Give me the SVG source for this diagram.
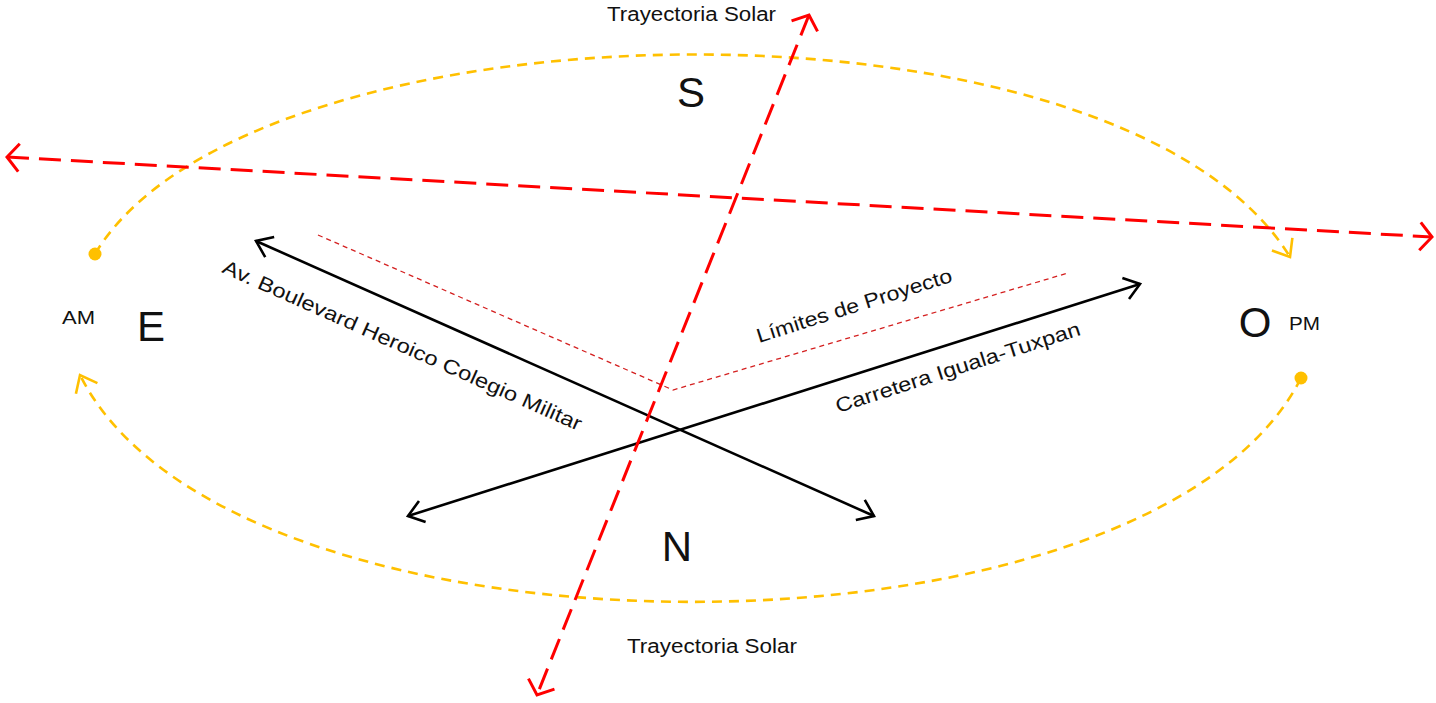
<svg xmlns="http://www.w3.org/2000/svg" width="1436" height="703" viewBox="0 0 1436 703">
<style>
text{font-family:"Liberation Sans","DejaVu Sans",sans-serif;fill:#111}
.red{stroke:#FF0000;stroke-width:3;fill:none;stroke-dasharray:22 10}
.blk{stroke:#000;stroke-width:2.6;fill:none}
.sun{stroke:#FFC000;stroke-width:2.6;fill:none;stroke-dasharray:10 7}
.lim{stroke:#D42020;stroke-width:1.3;fill:none;stroke-dasharray:5 4}
.lbl{font-size:20px}
.card{font-size:42px}
.small{font-size:19px}
</style>
<defs>
<marker id="ar" markerUnits="userSpaceOnUse" markerWidth="30" markerHeight="40" refX="0" refY="0" viewBox="-16 -20 20 40" orient="auto-start-reverse">
<path d="M-12,-14 L0,0 L-12,14" fill="none" stroke="#FF0000" stroke-width="3"/>
</marker>
<marker id="ab" markerUnits="userSpaceOnUse" markerWidth="30" markerHeight="40" refX="0" refY="0" viewBox="-18 -20 22 40" orient="auto-start-reverse">
<path d="M-15,-11 L0,0 L-15,11" fill="none" stroke="#000" stroke-width="2.6"/>
</marker>
<marker id="ay" markerUnits="userSpaceOnUse" markerWidth="30" markerHeight="40" refX="0" refY="0" viewBox="-18 -20 22 40" orient="auto">
<path d="M-15,-12 L0,0 L-15,12" fill="none" stroke="#FFC000" stroke-width="2.6"/>
</marker>
</defs>
<g id="connectors">
<path id="sun-upper" class="sun" d="M95,254 C250,-5 1120,-20 1290,257" marker-end="url(#ay)"/>
<path id="sun-lower" class="sun" d="M1301,378 C1150,677 230,677 80,375" marker-end="url(#ay)"/>
<path id="limits" class="lim" d="M318,235 L673,390 L1068,273"/>
<line id="blvd" class="blk" x1="256" y1="241" x2="874" y2="516" marker-start="url(#ab)" marker-end="url(#ab)"/>
<line id="carretera" class="blk" x1="408" y1="516" x2="1140" y2="284" marker-start="url(#ab)" marker-end="url(#ab)"/>
<line id="axis-ew" class="red" x1="7" y1="157" x2="1432" y2="237" marker-start="url(#ar)" marker-end="url(#ar)"/>
<line id="axis-ns" class="red" x1="809" y1="15" x2="537" y2="695" marker-start="url(#ar)" marker-end="url(#ar)"/>
</g>
<g id="dot-am"><circle cx="95" cy="254" r="6.5" fill="#FFC000"/></g>
<g id="dot-pm"><circle cx="1301" cy="378" r="6.5" fill="#FFC000"/></g>
<g id="label-top"><text class="lbl" x="607" y="21" textLength="169" lengthAdjust="spacingAndGlyphs">Trayectoria Solar</text></g>
<g id="label-bottom"><text class="lbl" x="627" y="653" textLength="170" lengthAdjust="spacingAndGlyphs">Trayectoria Solar</text></g>
<g id="card-s"><text class="card" x="691" y="107" text-anchor="middle">S</text></g>
<g id="card-n"><text class="card" x="677" y="561" text-anchor="middle">N</text></g>
<g id="card-e"><text class="card" x="151" y="341" text-anchor="middle">E</text></g>
<g id="card-o"><text class="card" x="1255" y="337" text-anchor="middle">O</text></g>
<g id="label-am"><text class="small" x="62" y="324" textLength="33" lengthAdjust="spacingAndGlyphs">AM</text></g>
<g id="label-pm"><text class="small" x="1289" y="330" textLength="31" lengthAdjust="spacingAndGlyphs">PM</text></g>
<g id="label-blvd"><text class="lbl" transform="translate(221,272) rotate(24)" textLength="391" lengthAdjust="spacingAndGlyphs">Av. Boulevard Heroico Colegio Militar</text></g>
<g id="label-carretera"><text class="lbl" transform="translate(838,413) rotate(-17.8)" textLength="256" lengthAdjust="spacingAndGlyphs">Carretera Iguala-Tuxpan</text></g>
<g id="label-limites"><text class="lbl" transform="translate(759,343) rotate(-17.6)" textLength="204" lengthAdjust="spacingAndGlyphs">Límites de Proyecto</text></g>
</svg>
